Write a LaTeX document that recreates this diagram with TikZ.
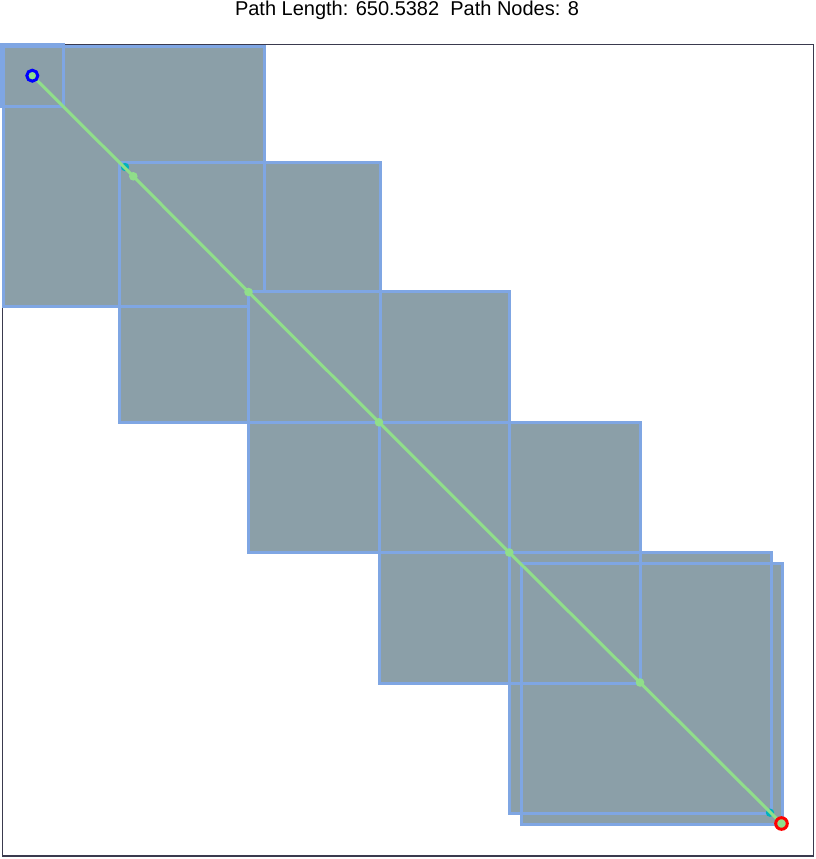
\documentclass[tikz,border=0pt]{standalone}
\usepackage{fontspec}
\setmainfont{Liberation Sans}
\usetikzlibrary{calc}
\definecolor{cellFill}{RGB}{139,159,168}
\definecolor{cellEdge}{RGB}{127,166,227}
\definecolor{pathGreen}{RGB}{144,222,138}
\definecolor{nodeCyan}{RGB}{0,178,190}
\definecolor{frameGrey}{RGB}{58,58,78}
\tikzstyle{cellFillStyle} = [fill=cellFill, draw=none]
\tikzstyle{cellEdgeStyle} = [draw=cellEdge, line width=3pt]
\tikzstyle{frameLine} = [draw=frameGrey, line width=1.5pt]
\tikzstyle{pathLine} = [draw=pathGreen, line width=3pt]
\tikzstyle{pathDot} = [fill=pathGreen, draw=none]
\tikzstyle{smoothDot} = [fill=nodeCyan, draw=none]
\tikzstyle{endRing} = [line width=3pt, fill=pathGreen]

\begin{document}
\begin{tikzpicture}[x=1pt, y=-1pt]

    \useasboundingbox (0,0) rectangle (816,859);

    \node (title) [anchor=base, font=\fontsize{20}{24}\selectfont] at (407,16) {Path Length: 650.5382\ \ Path Nodes: 8};

    \draw [frameLine] (2.7,44.7) rectangle (813.7,856);

    % first cells
    \foreach \xa/\ya/\xb/\yb in {3.5/46.5/264.5/306.5, 1.5/44.5/63.5/106.5, 119/162/380/422.5} {
        \fill [cellFillStyle] (\xa,\ya) rectangle (\xb,\yb);
    }
    \foreach \xa/\ya/\xb/\yb in {3.5/46.5/264.5/306.5, 1.5/44.5/63.5/106.5} {
        \draw [cellEdgeStyle] (\xa,\ya) rectangle (\xb,\yb);
    }

    % later cells
    \foreach \xa/\ya/\xb/\yb in {248.3/291.7/509.3/552.7, 379/422/640/683, 509/552.5/771/813, 521/563/782/824} {
        \fill [cellFillStyle] (\xa,\ya) rectangle (\xb,\yb);
    }
    \foreach \xa/\ya/\xb/\yb in {119/162/380/422.5, 248.3/291.7/509.3/552.7, 379/422/640/683, 509/552.5/771/813, 521/563/782/824} {
        \draw [cellEdgeStyle] (\xa,\ya) rectangle (\xb,\yb);
    }

    % path nodes
    \coordinate (start) at (32.3,75.7);
    \coordinate (p1) at (133.3,176.3);
    \coordinate (p2) at (248.5,292);
    \coordinate (p3) at (379,422.3);
    \coordinate (p4) at (509.3,552.5);
    \coordinate (p5) at (640,682.5);
    \coordinate (goal) at (781.5,823.5);
    \coordinate (s1) at (125,167);
    \coordinate (s2) at (770,812.7);

    \foreach \s in {s1,s2} {
        \fill [smoothDot] (\s) circle (4.2pt);
    }

    \draw [pathLine] (start) -- (p1) -- (p2) -- (p3) -- (p4) -- (p5) -- (goal);

    \foreach \p in {p1,p2,p3,p4,p5} {
        \fill [pathDot] (\p) circle (4.3pt);
    }

    \draw [endRing, draw=blue] (start) circle (5.5pt);
    \draw [endRing, draw=red] (goal) circle (5.8pt);

\end{tikzpicture}
\end{document}
